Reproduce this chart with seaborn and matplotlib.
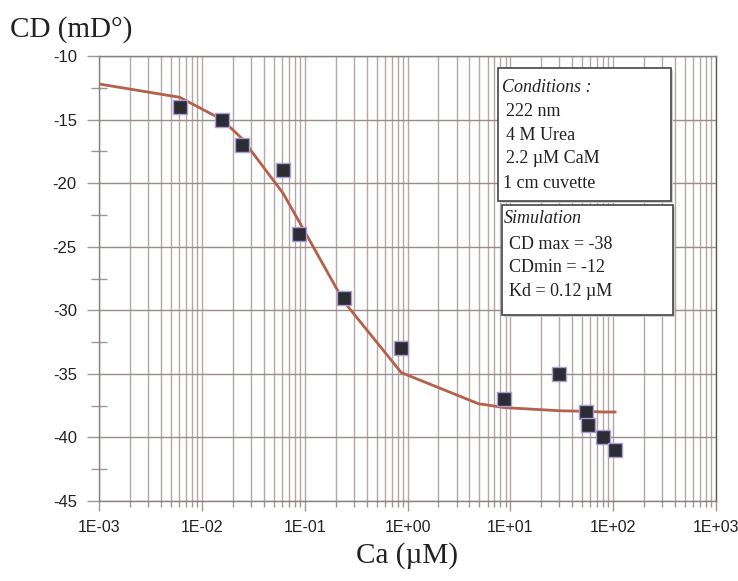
import numpy as np
import pandas as pd
import seaborn as sns
import matplotlib.pyplot as plt
from matplotlib.ticker import LogLocator, FixedLocator, FuncFormatter, MultipleLocator, NullFormatter
from matplotlib.patches import Rectangle

ca_meas = [0.0061, 0.0157, 0.0246, 0.0617, 0.088, 0.24, 0.87, 8.7, 29.8, 54.6, 56.5, 80, 105]
cd_meas = [-14, -15, -17, -19, -24, -29, -33, -37, -35, -38, -39, -40, -41]

# simulated curve
ca_sim = [0.001, 0.0061, 0.0157, 0.0246, 0.0617, 0.088, 0.24, 0.87, 4.9, 8.7, 29.8, 55, 80, 105]
cd_sim = [-12.2, -13.25, -15.0, -16.5, -20.8, -23.0, -29.3, -34.9, -37.35, -37.65, -37.9, -37.95, -38.0, -38.0]

x_decades = [1e-3, 1e-2, 1e-1, 1e0, 1e1, 1e2, 1e3]
cond_lines = ["222 nm", "4 M Urea", "2.2 \u00b5M CaM", "1 cm cuvette"]
sim_lines = ["CD max = -38", "CDmin = -12", "Kd = 0.12 \u00b5M"]

meas = pd.DataFrame({"Ca": ca_meas, "CD": cd_meas})
sim = pd.DataFrame({"Ca": ca_sim, "CD": cd_sim})

sns.set_style("white")
plt.rcParams['font.family'] = ['Liberation Sans', 'DejaVu Sans']
plt.rcParams['axes.unicode_minus'] = False

W, H = 738, 581
fig = plt.figure(figsize=(W / 100, H / 100), dpi=100)
ax = fig.add_axes([99 / W, 1 - 501 / H, (716 - 99) / W, (501 - 56) / H])

grid_col = '#b3a7a7'
ax.set_xscale('log')
ax.set_xlim(1e-3, 1e3)
ax.set_ylim(-45, -10)

ax.xaxis.set_major_locator(FixedLocator(x_decades))
ax.xaxis.set_minor_locator(LogLocator(base=10, subs=np.arange(2, 10), numticks=20))
ax.xaxis.set_major_formatter(FuncFormatter(lambda v, p: f"{v:.0E}"))
ax.xaxis.set_minor_formatter(NullFormatter())
ax.yaxis.set_major_locator(MultipleLocator(5))
ax.yaxis.set_minor_locator(MultipleLocator(2.5))

ax.grid(True, which='both', axis='x', color=grid_col, lw=1.0, zorder=0)
ax.grid(True, which='major', axis='y', color='#9a8c8c', lw=1.0, zorder=0)
ax.set_axisbelow(True)

ax.tick_params(axis='y', which='major', direction='out', length=9, width=1,
               color='#a09494', labelsize=12, pad=7, left=True)
ax.tick_params(axis='y', which='minor', direction='inout', length=12, width=1,
               color='#a09494', left=True)
ax.tick_params(axis='x', which='major', direction='out', length=7, width=1,
               color='#a09494', labelsize=11.5, pad=7, bottom=True)
ax.tick_params(axis='x', which='minor', direction='out', length=4, width=1,
               color='#a09494', bottom=True)
for lbl in ax.get_xticklabels() + ax.get_yticklabels():
    lbl.set_color('#222222')

for side, sp in ax.spines.items():
    sp.set_visible(True)
    sp.set_color('#8a8080')
    sp.set_linewidth(1.0)
ax.spines['right'].set_color('#5a5a5a')

sns.lineplot(data=sim, x="Ca", y="CD", ax=ax, color='#b5604a', lw=2, zorder=3,
             estimator=None, sort=False)
sns.scatterplot(data=meas, x="Ca", y="CD", ax=ax, marker='s', s=90,
                color='#2c2c34', edgecolor='#a8a0d0', linewidth=1, zorder=4)

ax.set_xlabel("")
ax.set_ylabel("")

serif = ['Liberation Serif', 'DejaVu Serif']
fig.text(10 / W, 1 - 30 / H, "CD (mD\u00b0)", family=serif, fontsize=21,
         va='center', ha='left', color='#222222')
fig.text(407 / W, 1 - 556 / H, "Ca (\u00b5M)", family=serif, fontsize=21,
         va='center', ha='center', color='#222222')


def box(x0, y0, x1, y1):
    # shadow then box, pixel coordinates from the top left
    fig.patches.append(Rectangle((x0 / W + 2 / W, 1 - y1 / H - 2 / H), (x1 - x0) / W,
                                 (y1 - y0) / H, transform=fig.transFigure,
                                 fc='#cfcfcf', ec='none', zorder=5))
    fig.patches.append(Rectangle((x0 / W, 1 - y1 / H), (x1 - x0) / W, (y1 - y0) / H,
                                 transform=fig.transFigure, fc='white', ec='#444444',
                                 lw=1.2, zorder=6))


box(498, 68, 671, 201)
box(502, 205, 673, 315)

fig.text(502 / W, 1 - 87 / H, "Conditions :", family=serif, style='italic',
         fontsize=13, va='center', color='#222222', zorder=7)
for i, t in enumerate(cond_lines):
    x0 = 503 if t.startswith("1 cm") else 506
    fig.text(x0 / W, 1 - (111 + 24 * i) / H, t, family=serif, fontsize=13,
             va='center', color='#222222', zorder=7)

fig.text(504 / W, 1 - 219 / H, "Simulation", family=serif, style='italic',
         fontsize=13, va='center', color='#222222', zorder=7)
for i, t in enumerate(sim_lines):
    fig.text(509 / W, 1 - (244 + 24 * i) / H, t, family=serif, fontsize=13,
             va='center', color='#222222', zorder=7)

fig.savefig("out.png", dpi=100)
